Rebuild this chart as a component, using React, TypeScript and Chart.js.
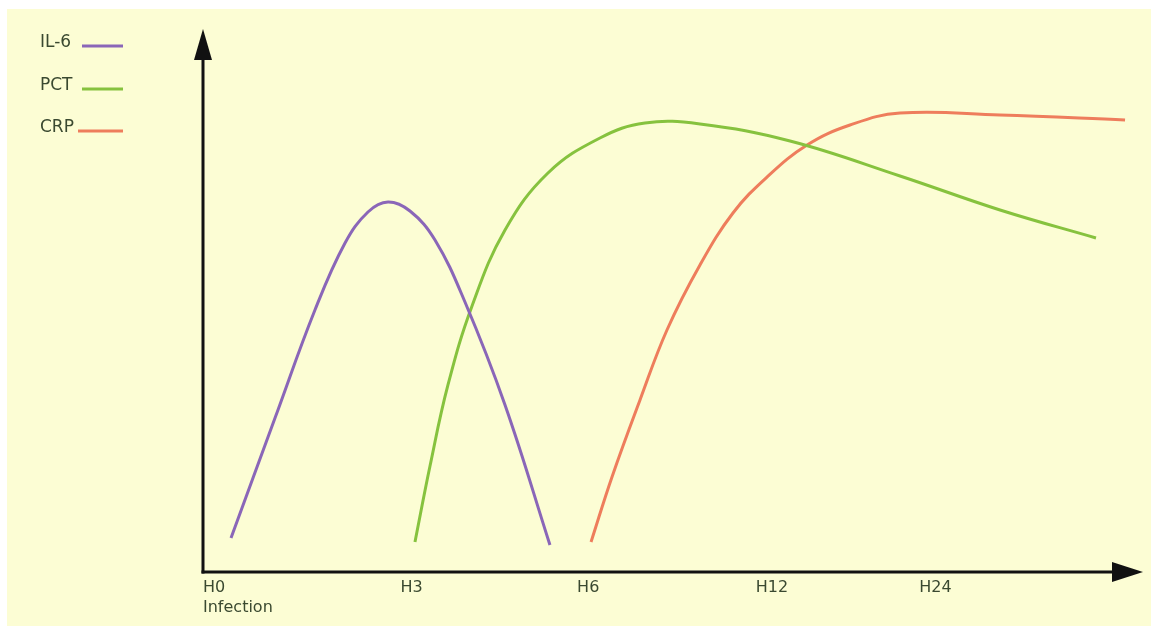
import React, { useEffect, useRef } from "react";
import { Chart, registerables } from "chart.js";

Chart.register(...registerables);

// Schematic time positions (0–100 along the x-axis) and relative level (0–100)
const tickPositions = [0, 21, 39.8, 58.8, 76.2];
const tickLabels: (string | string[])[] = [["H0", "Infection"], "H3", "H6", "H12", "H24"];

const il6X = [2.98, 7.66, 11.91, 15.11, 17.55, 19.68, 22.02, 24.68, 27.87, 32.13, 36.91];
const il6Y = [6.26, 28.36, 48.25, 60.59, 66.3, 68.14, 66.48, 61.14, 49.72, 30.76, 4.97];

const pctX = [22.55, 24.15, 26.06, 28.62, 32.13, 36.7, 42.23, 47.02, 52.87, 62.45, 74.15, 84.79, 95.0];
const pctY = [5.52, 19.52, 34.44, 48.99, 62.98, 73.48, 79.93, 82.69, 82.5, 79.37, 72.93, 66.67, 61.51];

const crpX = [41.28, 43.51, 46.49, 49.36, 52.87, 56.38, 60.0, 64.26, 68.83, 74.15, 84.79, 98.09];
const crpY = [5.52, 17.5, 31.68, 44.57, 56.54, 66.11, 72.74, 78.64, 82.32, 84.53, 84.16, 83.24];

const seriesNames = ["IL-6", "PCT", "CRP"];
const seriesColors = ["#8a66b8", "#86c23e", "#ee7d5c"];

const BG = "#fcfdd4";
const TEXT = "#3a4930";

const zip = (xs: number[], ys: number[]) => xs.map((x, i) => ({ x, y: ys[i] }));

const decor = {
  id: "decor",
  beforeDraw(chart: any) {
    const { ctx, width, height } = chart;
    ctx.save();
    ctx.fillStyle = "#ffffff";
    ctx.fillRect(0, 0, width, height);
    ctx.fillStyle = BG;
    ctx.fillRect(7, 9, width - 7, height - 9);
    ctx.restore();
  },
  beforeDatasetsDraw(chart: any) {
    const { ctx, chartArea } = chart;
    const { left, right, top, bottom } = chartArea;
    ctx.save();
    ctx.strokeStyle = "#111111";
    ctx.fillStyle = "#111111";
    ctx.lineWidth = 3;
    ctx.lineCap = "butt";
    // y axis
    ctx.beginPath();
    ctx.moveTo(left, bottom + 1.5);
    ctx.lineTo(left, top + 25);
    ctx.stroke();
    ctx.beginPath();
    ctx.moveTo(left, top);
    ctx.lineTo(left - 9, top + 31);
    ctx.lineTo(left + 9, top + 31);
    ctx.closePath();
    ctx.fill();
    // x axis
    ctx.beginPath();
    ctx.moveTo(left - 1.5, bottom);
    ctx.lineTo(right - 25, bottom);
    ctx.stroke();
    ctx.beginPath();
    ctx.moveTo(right, bottom);
    ctx.lineTo(right - 31, bottom - 10);
    ctx.lineTo(right - 31, bottom + 10);
    ctx.closePath();
    ctx.fill();
    ctx.restore();
  },
  afterDraw(chart: any) {
    const { ctx } = chart;
    ctx.save();
    ctx.font = "17px 'DejaVu Sans'";
    ctx.textBaseline = "middle";
    ctx.textAlign = "left";
    const rows = [43, 86, 128];
    chart.data.datasets.forEach((ds: any, i: number) => {
      const y = rows[i];
      ctx.fillStyle = TEXT;
      ctx.fillText(ds.label, 40, y);
      ctx.strokeStyle = ds.borderColor;
      ctx.lineWidth = 3;
      ctx.beginPath();
      ctx.moveTo(i === 2 ? 78 : 82, y + 3);
      ctx.lineTo(123, y + 3);
      ctx.stroke();
    });
    ctx.restore();
  },
};

export default function App() {
  const ref = useRef<HTMLCanvasElement>(null);

  useEffect(() => {
    if (!ref.current) return;
    const chart = new Chart(ref.current, {
      type: "line",
      data: {
        datasets: [
          { label: seriesNames[0], data: zip(il6X, il6Y), borderColor: seriesColors[0] },
          { label: seriesNames[1], data: zip(pctX, pctY), borderColor: seriesColors[1] },
          { label: seriesNames[2], data: zip(crpX, crpY), borderColor: seriesColors[2] },
        ].map((d) => ({
          ...d,
          borderWidth: 3,
          pointRadius: 0,
          fill: false,
          tension: 0.4,
        })),
      },
      options: {
        responsive: false,
        animation: false,
        devicePixelRatio: 1,
        layout: { padding: { left: 203, top: 29, right: 8, bottom: 0 } },
        plugins: { legend: { display: false }, tooltip: { enabled: false } },
        scales: {
          x: {
            type: "linear",
            min: 0,
            max: 100,
            grid: { display: false, drawTicks: false },
            border: { display: false },
            afterBuildTicks: (scale: any) => {
              scale.ticks = tickPositions.map((v) => ({ value: v }));
            },
            afterFit: (scale: any) => {
              scale.height = 54;
            },
            ticks: {
              autoSkip: false,
              maxRotation: 0,
              minRotation: 0,
              align: "start",
              padding: 5,
              color: TEXT,
              font: { family: "'DejaVu Sans'", size: 16, lineHeight: 1.3 },
              callback: (_v: any, i: number) => tickLabels[i],
            },
          },
          y: { display: false, min: 0, max: 100 },
        },
      },
      plugins: [decor],
    });
    return () => chart.destroy();
  }, []);

  return (
    <div style={{ position: "absolute", left: 0, top: 0, width: 1151, height: 626 }}>
      <canvas ref={ref} width={1151} height={626} style={{ display: "block" }} />
    </div>
  );
}
